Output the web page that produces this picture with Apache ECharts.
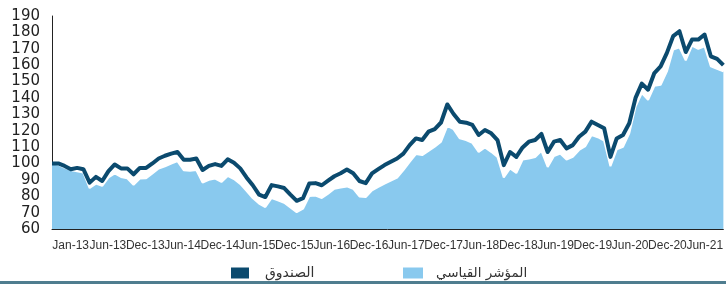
<!DOCTYPE html>
<html>
<head>
<meta charset="utf-8">
<script src="https://cdn.jsdelivr.net/npm/echarts@6/dist/echarts.min.js"></script>
<style>
  html, body { margin: 0; padding: 0; background: #fff; }
  #chart { width: 726px; height: 284px; }
</style>
</head>
<body>
<div id="chart"></div>
<script>
// monthly points, Jan-13 onwards
const monthNames = ['Jan', 'Feb', 'Mar', 'Apr', 'May', 'Jun', 'Jul', 'Aug', 'Sep', 'Oct', 'Nov', 'Dec']
const years = ['13', '14', '15', '16', '17', '18', '19', '20', '21']

// tick labels under the axis
const tickLabels = ['Jan-13', 'Jun-13', 'Dec-13', 'Jun-14', 'Dec-14', 'Jun-15', 'Dec-15', 'Jun-16', 'Dec-16',
  'Jun-17', 'Dec-17', 'Jun-18', 'Dec-18', 'Jun-19', 'Dec-19', 'Jun-20', 'Dec-20', 'Jun-21']

// الصندوق
const fund = [
  100, 100, 98.5, 96.5, 97.3, 96.5, 88.3, 91.8, 89.3, 95.3,
  99.4, 97, 97, 93.4, 97.3, 97.3, 100, 103, 104.7, 106,
  107, 102.3, 102.3, 103, 96, 98.5, 99.6, 98.5, 102.5, 100.4,
  97, 91.5, 86.7, 81, 79.5, 86.8, 86, 85, 81, 77.2,
  78.8, 87.7, 88, 86.7, 89.5, 92.2, 94, 96.3, 94, 89.3,
  88, 93.9, 96.5, 99, 101, 103, 106, 111.2, 115.3, 114.3,
  119.4, 121, 125, 136, 130.2, 125.5, 124.9, 123.5, 117.4, 120.4,
  118.4, 114.3, 99, 107, 104, 109.8, 113.3, 114.3, 118, 107,
  113.3, 114.3, 109.2, 111.2, 116.3, 119.4, 125.5, 123.5, 121.5, 104,
  115.3, 117.4, 124.5, 140, 148.7, 145, 155.2, 159.3, 167.5, 177.7,
  180.7, 168, 175.6, 175.6, 178.7, 165.4, 163.8, 160
]

// المؤشر القياسي
const benchmark = [
  100, 99.3, 97.5, 96, 95.3, 94.5, 85, 87.7, 86.3, 91.5,
  93.9, 91.8, 91, 87, 90.8, 91, 93.9, 96.9, 98.3, 100,
  101.4, 95.9, 95.5, 96, 88.3, 90, 90.8, 88.7, 92.4, 90.5,
  87.5, 83.3, 78.9, 75.5, 73.4, 78.9, 77.5, 76, 73.2, 70.3,
  72.4, 80.1, 80.4, 78.9, 81.6, 84.6, 85.3, 86, 84.6, 79.9,
  79.5, 83.6, 85.7, 87.7, 89.5, 91.4, 95.9, 101, 105.7, 105.1,
  107.7, 110.2, 113.3, 122.9, 120.9, 115.3, 114.3, 112.6, 107.1, 109.8,
  107.1, 104, 91.4, 96.9, 94.2, 102.4, 103, 104, 107.7, 97.9,
  104.5, 106, 102.4, 104, 108.2, 110.6, 117.4, 116, 113.9, 98.3,
  108.6, 110.2, 118.4, 134.7, 142.9, 138.8, 147.4, 148, 156.2, 169.5,
  170.9, 163, 172, 170, 171.5, 159.3, 157.7, 156.2
]

const months = []
years.forEach((y) => monthNames.forEach((m) => months.push(m + '-' + y)))
const categories = months.slice(0, fund.length)

const chart = echarts.init(document.getElementById('chart'))

chart.setOption({
  animation: false,
  backgroundColor: '#fff',
  grid: { left: 52, right: 0, top: 16, bottom: 55 },
  legend: [
    {
      data: ['الصندوق'],
      left: 226,
      top: 261,
      icon: 'rect',
      itemWidth: 18,
      itemHeight: 11,
      textStyle: { fontFamily: 'DejaVu Sans', fontSize: 14, color: '#333', padding: [0, 0, 0, 11] }
    },
    {
      data: ['المؤشر القياسي'],
      left: 398,
      top: 261,
      icon: 'rect',
      itemWidth: 20,
      itemHeight: 11,
      textStyle: { fontFamily: 'DejaVu Sans', fontSize: 13.5, color: '#333', padding: [0, 0, 0, 8] }
    }
  ],
  xAxis: [
    {
      type: 'category',
      data: categories,
      boundaryGap: false,
      axisLine: { lineStyle: { color: '#222', width: 1 } },
      axisTick: { show: false },
      axisLabel: { show: false }
    },
    {
      type: 'category',
      data: tickLabels,
      position: 'bottom',
      boundaryGap: true,
      axisLine: { show: false },
      axisTick: { show: false },
      axisLabel: {
        interval: 0,
        margin: 11,
        color: '#333',
        fontSize: 12,
        fontFamily: 'Liberation Sans'
      }
    }
  ],
  yAxis: {
    type: 'value',
    min: 60,
    max: 190,
    interval: 10,
    axisLine: { show: true, lineStyle: { color: '#222', width: 1 } },
    axisTick: { show: false },
    splitLine: { show: false },
    axisLabel: { color: '#222', fontSize: 15, fontFamily: 'DejaVu Sans', margin: 12 }
  },
  series: [
    {
      name: 'المؤشر القياسي',
      type: 'line',
      xAxisIndex: 0,
      data: benchmark,
      symbol: 'none',
      color: '#89c9ee',
      lineStyle: { color: '#fff', width: 2 },
      areaStyle: { color: '#89c9ee', opacity: 1, origin: 'start' },
      z: 2
    },
    {
      name: 'الصندوق',
      type: 'line',
      xAxisIndex: 0,
      data: fund,
      symbol: 'none',
      color: '#0b4a6e',
      lineStyle: { color: '#0b4a6e', width: 4, join: 'round' },
      z: 3
    }
  ],
  graphic: [
    {
      type: 'rect',
      left: 0,
      bottom: 0,
      shape: { width: 726, height: 3 },
      style: { fill: '#4f7d8f' }
    }
  ]
})
</script>
</body>
</html>
